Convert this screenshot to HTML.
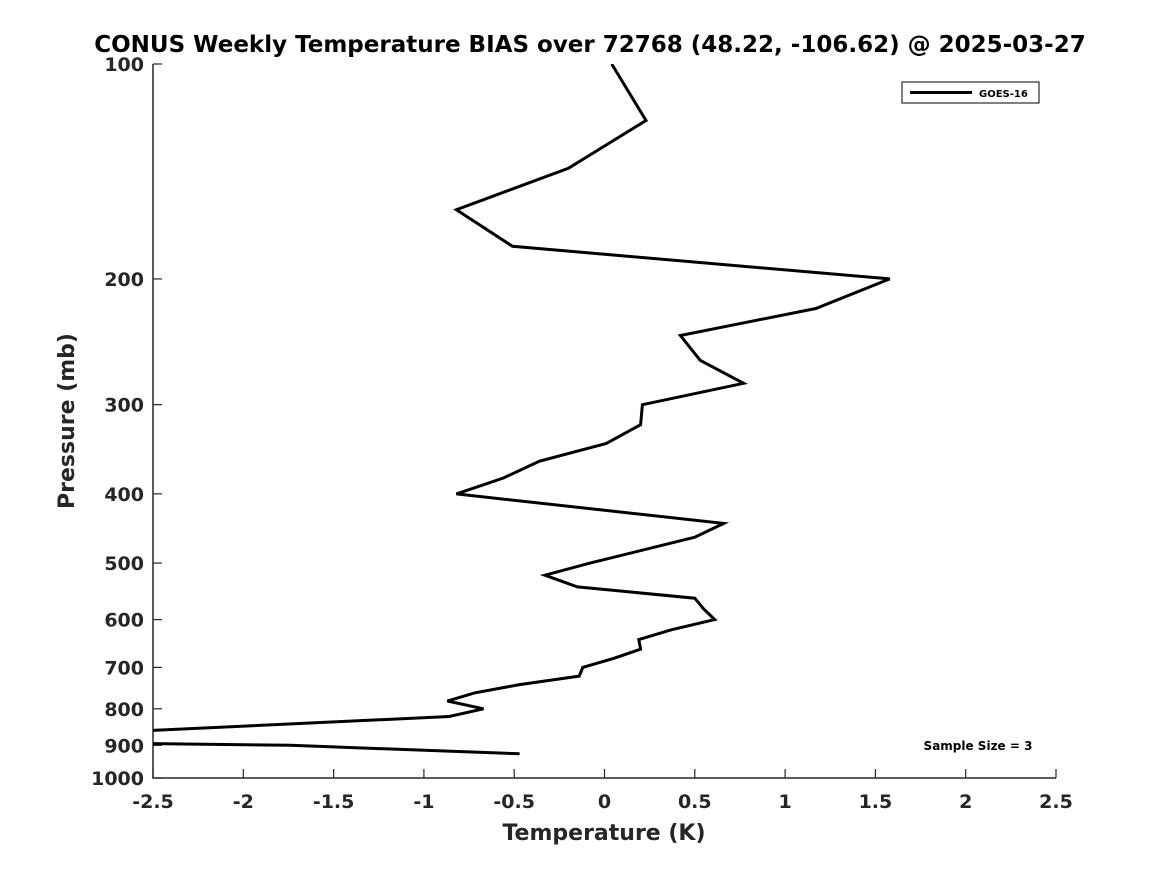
<!DOCTYPE html>
<html><head><meta charset="utf-8"><style>
body{margin:0;background:#fff;}
svg text{font-family:"DejaVu Sans","Liberation Sans",sans-serif;font-weight:bold;fill:#262626;}
</style></head><body>
<svg id="c" width="1167" height="875" xmlns="http://www.w3.org/2000/svg">
<rect width="1167" height="875" fill="#fff"/>
<defs><clipPath id="plotclip"><rect x="153" y="64" width="903" height="714"/></clipPath></defs>
<text x="590" y="52" text-anchor="middle" font-size="23" style="fill:#000">CONUS Weekly Temperature BIAS over 72768 (48.22, -106.62) @ 2025-03-27</text>
<g id="axes"></g>
<path id="line" fill="none" stroke="#000" stroke-width="3" stroke-linejoin="miter" clip-path="url(#plotclip)"/>
<g>
<rect x="902" y="82" width="137" height="21" fill="#fff" stroke="#000" stroke-width="1"/>
<line x1="910" y1="92.5" x2="972" y2="92.5" stroke="#000" stroke-width="3"/>
<text x="979" y="97" font-size="10" style="fill:#000">GOES-16</text>
</g>
<text x="978" y="750" text-anchor="middle" font-size="12" style="fill:#000">Sample Size = 3</text>
<text x="604" y="840" text-anchor="middle" font-size="22">Temperature (K)</text>
<text transform="translate(74,421) rotate(-90)" text-anchor="middle" font-size="22">Pressure (mb)</text>
</svg>
<script>
const pressures=[100,120,140,160,180,200,220,240,260,280,300,320,340,360,380,400,440,460,500,520,540,560,580,600,620,640,660,680,700,720,740,760,780,800,820,860,880,895,900,925];
const temps=[0.04,0.23,-0.2,-0.82,-0.51,1.58,1.17,0.42,0.53,0.77,0.21,0.2,0.01,-0.36,-0.56,-0.82,0.66,0.5,-0.08,-0.33,-0.15,0.5,0.55,0.61,0.37,0.19,0.2,0.05,-0.12,-0.14,-0.47,-0.72,-0.87,-0.67,-0.86,-2.6,-4,-2.5,-1.74,-0.47];
const xTicks=[-2.5,-2,-1.5,-1,-0.5,0,0.5,1,1.5,2,2.5];
const yTicks=[100,200,300,400,500,600,700,800,900,1000];
const X0=153,X1=1056,Y0=64,Y1=778;
function xs(t){return X0+(t+2.5)/5*(X1-X0);}
function ys(p){return Y0+Math.log10(p/100)*(Y1-Y0);}
const NS="http://www.w3.org/2000/svg";
const ax=document.getElementById('axes');
function mk(tag,attrs,parent){const e=document.createElementNS(NS,tag);for(const k in attrs)e.setAttribute(k,attrs[k]);parent.appendChild(e);return e;}
const sp=mk('path',{d:`M${X0},${Y0}V${Y1}H${X1}`,fill:'none',stroke:'#262626','stroke-width':1.5},ax);


xTicks.forEach(t=>{const x=xs(t);
 const l=mk('line',{x1:x,x2:x,y1:Y1,y2:Y1-9,stroke:'#262626','stroke-width':1.2},ax);
 
 
 const tx=mk('text',{x:x,y:Y1+30,'text-anchor':'middle','font-size':19},ax);
 
 
 tx.textContent=String(t);});
yTicks.forEach(p=>{const y=ys(p);
 const l=mk('line',{x1:X0,x2:X0+9,y1:y,y2:y,stroke:'#262626','stroke-width':1.2},ax);
 
 
 const tx=mk('text',{x:X0-9,y:y+7,'text-anchor':'end','font-size':19},ax);
 
 
 tx.textContent=String(p);});
document.getElementById('line').setAttribute('d',pressures.map((p,i)=>(i?'L':'M')+xs(temps[i]).toFixed(1)+','+ys(p).toFixed(1)).join(''));
</script>
</body></html>
